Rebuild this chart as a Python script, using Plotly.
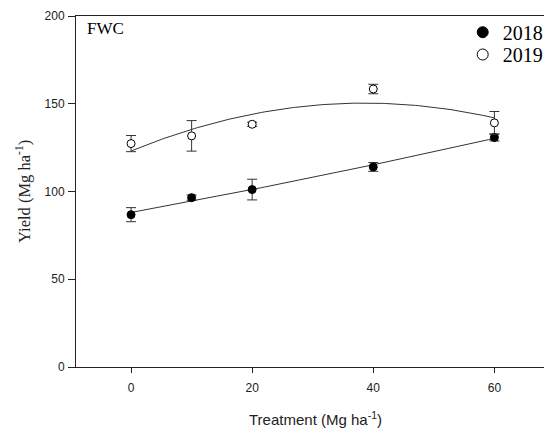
import numpy as np
import plotly.graph_objects as go

# Data
treatment = [0, 10, 20, 40, 60]
yield_2018 = [86.8, 96.5, 101.1, 114.0, 130.8]
err_2018 = [4.0, 1.5, 5.9, 2.5, 2.0]
yield_2019 = [127.3, 131.7, 138.3, 158.4, 139.1]
err_2019 = [4.6, 8.7, 1.2, 2.7, 6.5]
series_names = ["2018", "2019"]
x_ticks = [0, 20, 40, 60]
y_ticks = [0, 50, 100, 150, 200]

# Quadratic regression curves (as in the original figure)
xfit = np.linspace(min(treatment), max(treatment), 121)
fit_2018 = np.polyval(np.polyfit(treatment, yield_2018, 2), xfit)
fit_2019 = np.polyval(np.polyfit(treatment, yield_2019, 2), xfit)

W, H = 548, 429
ml, mr, mt, mb = 76, 0, 16, 429 - 367
pw = W - ml - mr
ph = H - mt - mb


def px(sx):
    return (sx - ml) / pw


def py(sy):
    return 1 - (sy - mt) / ph


fig = go.Figure()
line_col = "#333333"
fig.add_trace(go.Scatter(x=xfit, y=fit_2018, mode="lines",
                         line=dict(color=line_col, width=1), showlegend=False, hoverinfo="skip"))
fig.add_trace(go.Scatter(x=xfit, y=fit_2019, mode="lines",
                         line=dict(color=line_col, width=1), showlegend=False, hoverinfo="skip"))

fig.add_trace(go.Scatter(
    x=treatment, y=yield_2018, mode="markers", showlegend=False,
    marker=dict(symbol="circle", size=8, color="black", line=dict(color="black", width=1)),
    error_y=dict(type="data", array=err_2018, color=line_col, thickness=1, width=5)))
fig.add_trace(go.Scatter(
    x=treatment, y=yield_2019, mode="markers", showlegend=False,
    marker=dict(symbol="circle", size=8, color="white", line=dict(color="black", width=1)),
    error_y=dict(type="data", array=err_2019, color=line_col, thickness=1, width=5)))

# Legend entries (two legends so the row spacing matches the reference)
fig.add_trace(go.Scatter(x=[None], y=[None], mode="markers", name=series_names[0], legend="legend",
                         marker=dict(symbol="circle", size=11, color="black",
                                     line=dict(color="black", width=1))))
fig.add_trace(go.Scatter(x=[None], y=[None], mode="markers", name=series_names[1], legend="legend2",
                         marker=dict(symbol="circle", size=11, color="white",
                                     line=dict(color="black", width=1))))

leg_font = dict(family="Liberation Serif, Times New Roman", size=20, color="black")
leg_common = dict(xanchor="left", yanchor="top", font=leg_font, bgcolor="rgba(0,0,0,0)",
                  borderwidth=0, itemwidth=30)

fig.update_layout(
    width=W, height=H,
    margin=dict(l=ml, r=mr, t=mt, b=mb, pad=0),
    paper_bgcolor="white", plot_bgcolor="white",
    font=dict(family="Liberation Sans, Arial", size=12, color="#222222"),
    legend=dict(x=px(466), y=py(12.7), **leg_common),
    legend2=dict(x=px(466), y=py(35), **leg_common),
    xaxis=dict(range=[-9.09, 68.19], tickvals=x_ticks, ticks="outside", ticklen=5,
               tickwidth=1, tickcolor="#222", showline=True, linecolor="#222", linewidth=1,
               mirror=True, showgrid=False, zeroline=False, ticklabelstandoff=5,
               tickfont=dict(family="Liberation Sans, Arial", size=12, color="#222")),
    yaxis=dict(range=[0, 200], tickvals=y_ticks, ticks="outside", ticklen=7,
               tickwidth=1, tickcolor="#222", showline=True, linecolor="#222", linewidth=1,
               mirror=False, showgrid=False, zeroline=False, ticklabelstandoff=1,
               tickfont=dict(family="Liberation Sans, Arial", size=12, color="#222")),
    annotations=[
        dict(text="FWC", xref="paper", yref="paper", x=px(85), y=py(29),
             xanchor="left", yanchor="middle", showarrow=False,
             font=dict(family="Liberation Serif, Times New Roman", size=17, color="black")),
        dict(text="Yield (Mg ha<sup>-1</sup>)", xref="paper", yref="paper",
             x=px(23), y=py(191.5), xanchor="center", yanchor="middle", textangle=-90,
             showarrow=False,
             font=dict(family="Liberation Serif, Times New Roman", size=16.5, color="#222")),
        dict(text="Treatment (Mg ha<sup>-1</sup>)", xref="paper", yref="paper",
             x=px(318), y=py(418), xanchor="center", yanchor="middle",
             showarrow=False,
             font=dict(family="Liberation Sans, Arial", size=15, color="#222")),
    ],
)

# remove the default 8px page margin so the 548x429 figure fills the window exactly
fig.write_html("out.html",
               config={"displayModeBar": False},
               post_script="document.body.style.margin='0';document.body.style.overflow='hidden';")
